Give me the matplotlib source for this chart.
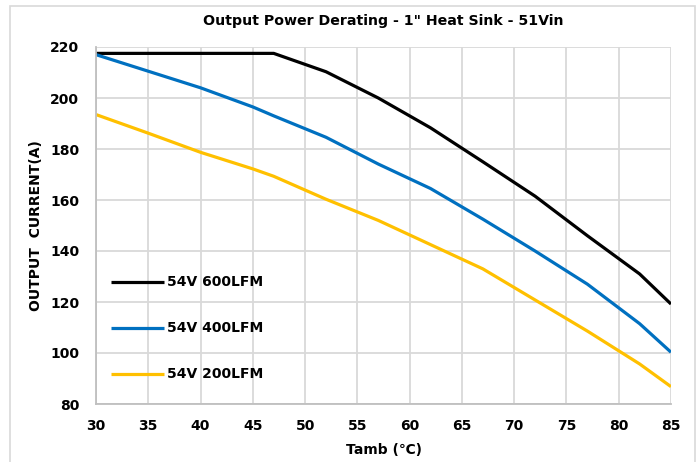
import matplotlib
matplotlib.use('Agg')
import matplotlib.pyplot as plt
from matplotlib.patches import Rectangle

# Data
tamb = [30, 35, 40, 45, 47, 52, 57, 62, 67, 72, 77, 82, 85]
i_600lfm = [217.5, 217.5, 217.5, 217.5, 217.5, 210.3, 200.0, 188.3, 175.0, 161.5, 146.0, 131.0, 119.2]
i_400lfm = [217.0, 210.5, 204.0, 196.5, 193.0, 184.6, 174.1, 164.5, 152.5, 140.0, 127.0, 111.5, 100.3]
i_200lfm = [193.5, 186.2, 178.7, 172.2, 169.3, 160.3, 152.0, 142.5, 133.0, 120.8, 108.6, 95.7, 86.8]

labels = ['54V 600LFM', '54V 400LFM', '54V 200LFM']
colors = ['#000000', '#0070c0', '#ffc000']

plt.rcParams['font.family'] = ['DejaVu Sans']
plt.rcParams['font.weight'] = 'bold'

fig = plt.figure(figsize=(6.99, 4.62), dpi=100)
ax = fig.add_axes([96/699, 1-404/462, (671-96)/699, (404-47)/462])

# outer chart border
fig.patches.append(Rectangle((10/699, -0.05), (695-10)/699, 1.05-6/462,
                             transform=fig.transFigure, fill=False,
                             edgecolor='#d9d9d9', linewidth=1.2))

for y, lab, c in zip([i_600lfm, i_400lfm, i_200lfm], labels, colors):
    ax.plot(tamb, y, color=c, linewidth=2.3, label=lab, solid_capstyle='butt')

ax.set_xlim(30, 85)
ax.set_ylim(80, 220)
ax.set_xticks(range(30, 86, 5))
ax.set_yticks(range(80, 221, 20))
ax.grid(True, color='#d9d9d9', linewidth=1.3)
ax.set_axisbelow(True)
for s in ['top', 'right']:
    ax.spines[s].set_visible(False)
for s in ['left', 'bottom']:
    ax.spines[s].set_color('#bfbfbf')
    ax.spines[s].set_linewidth(1.3)
ax.tick_params(length=0, labelsize=10)
ax.tick_params(axis='x', pad=11)
ax.tick_params(axis='y', pad=12)

ax.set_title('Output Power Derating - 1" Heat Sink - 51Vin', fontsize=10.2, fontweight='bold', pad=16)
ax.set_xlabel('Tamb (\u2103)', fontsize=10, fontweight='bold', labelpad=7)
ax.set_ylabel('OUTPUT  CURRENT(A)', fontsize=10, fontweight='bold', labelpad=5)

ax.legend(loc='upper left', bbox_to_anchor=(0.005, 0.395), frameon=False,
          fontsize=10, handlelength=3.8, handletextpad=0.2, labelspacing=2.3)

fig.savefig('out.png', dpi=100)
